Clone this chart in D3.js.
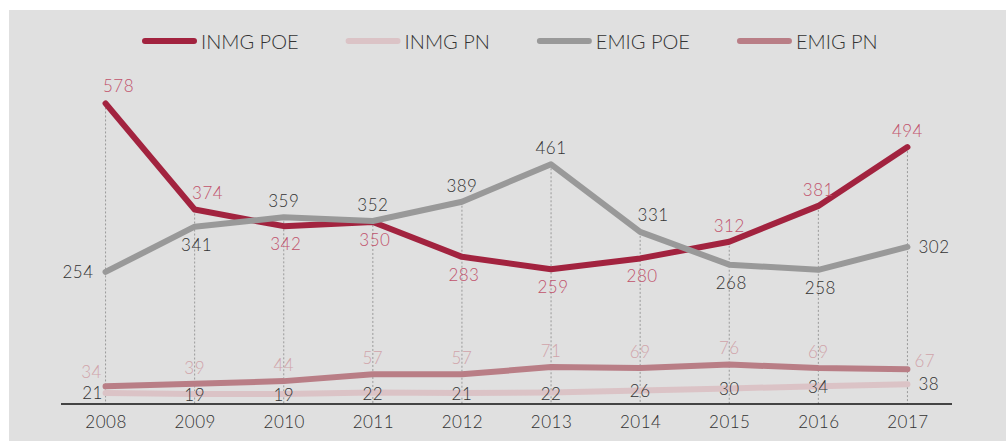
<!DOCTYPE html>
<html>
<head>
<meta charset="utf-8">
<script src="https://cdn.jsdelivr.net/npm/d3@7"></script>
<style>
  body { margin: 0; background: #fff; }
  text { font-family: Lato, "Open Sans", sans-serif; font-weight: 300; }
</style>
</head>
<body>
<svg id="chart"></svg>
<script>
// data
var years = [2008, 2009, 2010, 2011, 2012, 2013, 2014, 2015, 2016, 2017];
var inmgPoe = [578, 374, 342, 350, 283, 259, 280, 312, 381, 494];
var inmgPn = [21, 19, 19, 22, 21, 22, 26, 30, 34, 38];
var emigPoe = [254, 341, 359, 352, 389, 461, 331, 268, 258, 302];
var emigPn = [34, 39, 44, 57, 57, 71, 69, 76, 69, 67];

// where each value label sits: a above, ar above-right, al above-left, b below, l left, r right, c on line
var inmgPoePos = ["ar", "ar", "b", "b", "b", "b", "b", "a", "a", "a"];
var inmgPnPos = ["cl", "c", "c", "c", "c", "c", "c", "c", "c", "r"];
var emigPoePos = ["l", "b", "a", "a", "a", "a", "ar", "b", "b", "r"];
var emigPnPos = ["al", "a", "a", "a", "a", "a", "a", "a", "a", "ru"];

var series = [
    { name: "INMG POE", values: inmgPoe, pos: inmgPoePos, color: "#a2233f", label: "#c0536c" },
    { name: "INMG PN", values: inmgPn, pos: inmgPnPos, color: "#dbc3c6", label: "#333333" },
    { name: "EMIG POE", values: emigPoe, pos: emigPoePos, color: "#999999", label: "#333333" },
    { name: "EMIG PN", values: emigPn, pos: emigPnPos, color: "#b97e86", label: "#d0a4aa" }
];

var width = 1006,
    height = 442;

var svg = d3.select("#chart")
    .attr("width", width)
    .attr("height", height);

svg.append("rect")
    .attr("x", 9)
    .attr("y", 10)
    .attr("width", width - 9)
    .attr("height", 431)
    .style("fill", "#e0e0e0");

var x = d3.scalePoint()
    .domain(years)
    .range([61, 952])
    .padding(0.5);

var y = d3.scaleLinear()
    .domain([0, 600])
    .range([404, 92]);

// dotted drop lines from the top value down to the axis
var g = svg.append("g");
g.selectAll("line.drop")
    .data(years)
    .enter().append("line")
    .attr("class", "drop")
    .attr("x1", function(d) { return x(d); })
    .attr("x2", function(d) { return x(d); })
    .attr("y1", function(d, i) { return y(d3.max(series, function(s) { return s.values[i]; })); })
    .attr("y2", y(0))
    .style("stroke", "#9a9a9a")
    .style("stroke-width", 1)
    .style("stroke-dasharray", "2,2");

// axis
var axis = svg.append("g")
    .attr("transform", "translate(0," + y(0) + ")")
    .call(d3.axisBottom(x).tickSize(0).tickPadding(12));
axis.select(".domain")
    .attr("d", "M61,0H952")
    .style("stroke", "#111")
    .style("stroke-width", 1.5);
axis.selectAll(".tick text")
    .style("font-family", "Lato, sans-serif")
    .style("font-weight", 300)
    .style("font-size", "17px")
    .style("letter-spacing", "0.5px")
    .style("fill", "#333");

var line = d3.line()
    .x(function(d, i) { return x(years[i]); })
    .y(function(d) { return y(d); });

// draw order: PN lines, then red, then gray on top
var order = [series[1], series[3], series[0], series[2]];
g.selectAll("path.series")
    .data(order)
    .enter().append("path")
    .attr("class", "series")
    .attr("d", function(s) { return line(s.values); })
    .style("fill", "none")
    .style("stroke", function(s) { return s.color; })
    .style("stroke-width", 6)
    .style("stroke-linecap", "round")
    .style("stroke-linejoin", "round");

var offsets = {
    a: [0, -10, "middle"],
    ar: [13, -11, "middle"],
    al: [-14, -8, "middle"],
    b: [2, 24, "middle"],
    l: [-12, 6, "end"],
    r: [11, 6, "start"],
    ru: [7, -2, "start"],
    c: [0, 7, "middle"],
    cl: [-13, 6, "middle"]
};

series.forEach(function(s) {
    g.selectAll(null)
        .data(s.values)
        .enter().append("text")
        .attr("x", function(d, i) { return x(years[i]) + offsets[s.pos[i]][0]; })
        .attr("y", function(d, i) { return y(d) + offsets[s.pos[i]][1]; })
        .attr("text-anchor", function(d, i) { return offsets[s.pos[i]][2]; })
        .style("font-size", "17px")
        .style("letter-spacing", "0.5px")
        .style("fill", s.label)
        .text(function(d) { return d; });
});

// legend
var legend = svg.append("g").attr("transform", "translate(142,41)");
var lx = 0;
series.forEach(function(s) {
    var item = legend.append("g").attr("transform", "translate(" + lx + ",0)");
    item.append("line")
        .attr("x1", 3).attr("x2", 52)
        .style("stroke", s.color)
        .style("stroke-width", 6)
        .style("stroke-linecap", "round");
    var t = item.append("text")
        .attr("x", 59)
        .attr("y", 7.5)
        .style("font-size", "20px")
        .style("fill", "#333")
        .text(s.name);
    lx += 59 + t.node().getComputedTextLength() + 47;
});
</script>
</body>
</html>
